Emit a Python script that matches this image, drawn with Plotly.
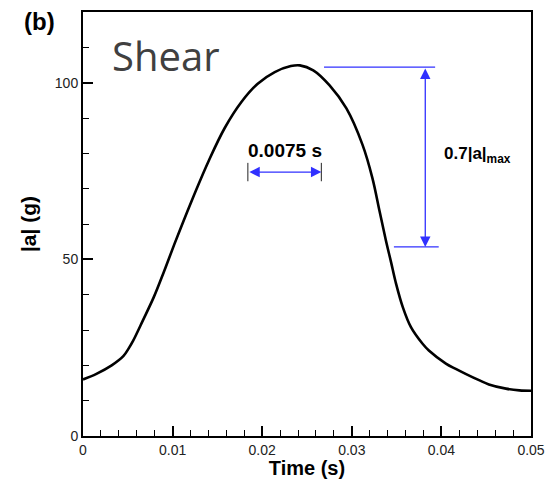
import plotly.graph_objects as go

# Curve data (time in s, |a| in g)
time_s = [0.0, 0.0015, 0.0032, 0.0045, 0.0051, 0.0056, 0.0067, 0.0079, 0.0090,
          0.0102, 0.0121, 0.0140, 0.0158, 0.0177, 0.0195, 0.0214, 0.0232, 0.0242,
          0.0257, 0.0275, 0.0294, 0.0312, 0.0323, 0.0331, 0.0338, 0.0344, 0.0349,
          0.0357, 0.0366, 0.0379, 0.0386, 0.0405, 0.0416, 0.0427, 0.0442, 0.0453,
          0.0472, 0.0487, 0.0500]
accel_g = [16.0, 17.6, 20.0, 22.6, 24.8, 27.0, 32.8, 39.3, 46.3,
           54.3, 66.4, 77.7, 87.1, 94.6, 99.7, 103.0, 104.7, 104.9,
           103.5, 99.3, 92.7, 82.4, 73.0, 63.6, 55.4, 49.0, 43.5,
           36.4, 30.8, 26.1, 24.2, 20.5, 19.0, 17.6, 15.8, 14.6,
           13.4, 12.9, 12.8]

x_tickvals = [0, 0.01, 0.02, 0.03, 0.04, 0.05]
x_ticktext = ["0", "0.01", "0.02", "0.03", "0.04", "0.05"]
y_tickvals = [0, 50, 100]
y_ticktext = ["0", "50", "100"]

# Annotation values
amax_level = 104.4
low_level = 53.5
top_line_t = [0.0269, 0.0393]
low_line_t = [0.0347, 0.0397]
vert_arrow_t = 0.0382
width_arrow_t = [0.0184, 0.0266]
width_arrow_a = 74.7

BLUE = "#3030ff"
FONT = "Arial, Liberation Sans"

fig = go.Figure()
fig.add_trace(go.Scatter(x=time_s, y=accel_g, mode="lines",
                         line=dict(color="black", width=2.6, shape="spline", smoothing=1.0),
                         showlegend=False, hoverinfo="skip"))

axis_common = dict(showline=True, linecolor="black", linewidth=2, mirror=True,
                   ticks="inside", tickcolor="black", tickwidth=1.5, ticklen=10,
                   showgrid=False, zeroline=False,
                   tickfont=dict(family=FONT, size=14, color="#222"))

fig.update_xaxes(range=[0, 0.05], tickvals=x_tickvals, ticktext=x_ticktext,
                 minor=dict(dtick=0.002, ticks="inside", ticklen=6, tickwidth=1, tickcolor="black"),
                 title=dict(text="<b>Time (s)</b>", font=dict(family=FONT, size=20, color="black"), standoff=1),
                 **axis_common)
fig.update_yaxes(range=[0, 120], tickvals=y_tickvals, ticktext=y_ticktext,
                 minor=dict(dtick=10, ticks="inside", ticklen=6, tickwidth=1, tickcolor="black"),
                 title=dict(text="<b>|a| (g)</b>", font=dict(family=FONT, size=21, color="black"), standoff=12),
                 **axis_common)

shapes = [
    dict(type="line", xref="x", yref="y", x0=top_line_t[0], x1=top_line_t[1], y0=amax_level, y1=amax_level,
         line=dict(color=BLUE, width=1.3)),
    dict(type="line", xref="x", yref="y", x0=low_line_t[0], x1=low_line_t[1], y0=low_level, y1=low_level,
         line=dict(color=BLUE, width=1.3)),
    dict(type="line", xref="x", yref="y", x0=width_arrow_t[0], x1=width_arrow_t[0], y0=width_arrow_a - 2.6, y1=width_arrow_a + 2.6,
         line=dict(color="#222", width=1)),
    dict(type="line", xref="x", yref="y", x0=width_arrow_t[1], x1=width_arrow_t[1], y0=width_arrow_a - 2.6, y1=width_arrow_a + 2.6,
         line=dict(color="#222", width=1)),
]

# The page body adds an 8px offset at left/top; size the figure so the plot area lands where the reference has it.
OFF = 8
W, H = 555 - OFF, 479 - OFF
plot_l, plot_r, plot_t, plot_b = 83 - OFF, 24, 10 - OFF, 43
pw, ph = W - plot_l - plot_r, H - plot_t - plot_b

annotations = [
    dict(x=vert_arrow_t, y=low_level, ax=vert_arrow_t, ay=amax_level, xref="x", yref="y", axref="x", ayref="y",
         showarrow=True, arrowhead=2, arrowside="end+start", arrowsize=1.6, arrowwidth=1.3, arrowcolor=BLUE, text=""),
    dict(x=width_arrow_t[1], y=width_arrow_a, ax=width_arrow_t[0], ay=width_arrow_a, xref="x", yref="y", axref="x", ayref="y",
         showarrow=True, arrowhead=2, arrowside="end+start", arrowsize=1.6, arrowwidth=1.3, arrowcolor=BLUE, text=""),
    dict(x=sum(width_arrow_t) / 2, y=width_arrow_a + 6, xref="x", yref="y", showarrow=False,
         text="<b>0.0075 s</b>", font=dict(family=FONT, size=19, color="black")),
    dict(x=0.04405, y=79.6, xref="x", yref="y", showarrow=False,
         text="<b>0.7|a|<sub>max</sub></b>", font=dict(family=FONT, size=17, color="black")),
    dict(x=0.0093, y=107.6, xref="x", yref="y", showarrow=False,
         text="Shear", font=dict(family="Open Sans", size=40, color="#404040")),
    dict(x=(39 - 83) / pw, y=1 - (20 - 10) / ph, xref="paper", yref="paper",
         xanchor="center", yanchor="middle", showarrow=False,
         text="<b>(b)</b>", font=dict(family=FONT, size=24, color="black")),
]

fig.update_layout(width=W, height=H, margin=dict(l=plot_l, r=plot_r, t=plot_t, b=plot_b),
                  plot_bgcolor="white", paper_bgcolor="white",
                  shapes=shapes, annotations=annotations,
                  font=dict(family=FONT))

fig.write_html("out.html")
